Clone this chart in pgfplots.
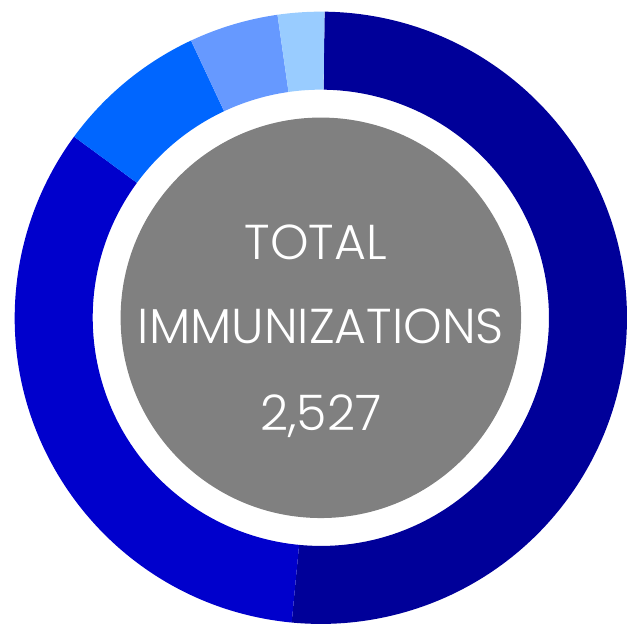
\documentclass[border=0pt]{standalone}
\usepackage{fontspec}
\setmainfont{Poppins Light}
\usepackage{pgfplots}
\usepackage{pgfplotstable}
\pgfplotsset{compat=1.18}

\definecolor{c1}{HTML}{000099}
\definecolor{c2}{HTML}{0000CC}
\definecolor{c3}{HTML}{0066FF}
\definecolor{c4}{HTML}{6699FF}
\definecolor{c5}{HTML}{99CCFF}
\definecolor{hole}{HTML}{808080}

% immunizations by group, clockwise from the top
\pgfplotstableread{
value color
1297 c1
848 c2
201 c3
119 c4
62 c5
}\immtable

\begin{document}
\begin{tikzpicture}
\begin{axis}[
    x=1cm, y=1cm,
    xmin=-6.388, xmax=6.152,
    ymin=-6.2, ymax=6.38,
    hide axis,
    clip=false,
]
\addplot[draw=none] coordinates {(-6.388,-6.2) (6.152,6.38)};
\pgfplotstablegetrowsof{\immtable}
\pgfmathtruncatemacro\nrows{\pgfplotsretval-1}
\def\startang{89.3}
\pgfplotsforeachungrouped \i in {0,...,\nrows}{
    \pgfplotstablegetelem{\i}{value}\of\immtable
    \let\val\pgfplotsretval
    \pgfplotstablegetelem{\i}{color}\of\immtable
    \let\col\pgfplotsretval
    \pgfmathsetmacro\endang{\startang-\val/2527*360}
    \edef\temp{\noexpand\fill[\col]
        (axis cs:{6.146*cos(\startang)},{6.146*sin(\startang)})
        arc[start angle=\startang, end angle=\endang, radius=6.146]
        -- (axis cs:{4.58*cos(\endang)},{4.58*sin(\endang)})
        arc[start angle=\endang, end angle=\startang, radius=4.58] -- cycle;}
    \temp
    \global\let\startang\endang
}
\fill[hole] (axis cs:0,0) circle[radius=4.02];
\node[white, anchor=base, font=\fontsize{28}{31}\selectfont] at (axis cs:-0.1,1.18) {TOTAL};
\node[white, anchor=base, font=\fontsize{28}{31}\selectfont] at (axis cs:0,-0.52) {IMMUNIZATIONS};
\node[white, anchor=base, font=\fontsize{28}{31}\selectfont] at (axis cs:0,-2.26) {2,527};
\end{axis}
\end{tikzpicture}
\end{document}
